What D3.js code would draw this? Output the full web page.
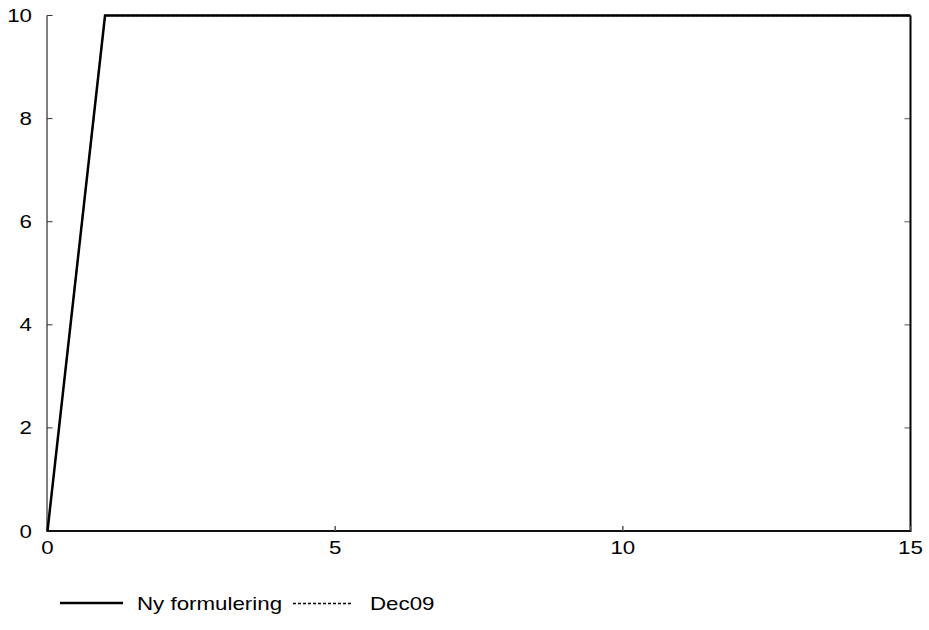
<!DOCTYPE html>
<html><head><meta charset="utf-8">
<script src="https://cdn.jsdelivr.net/npm/d3@7"></script>
<style>
body{margin:0;background:#fff;}
text{font-family:"Liberation Sans",Arial,Helvetica,sans-serif;fill:#000;}
</style></head>
<body><svg id="c" width="929" height="630"></svg>
<script>
const xValues = [0,1,2,3,4,5,6,7,8,9,10,11,12,13,14,15];
const nyFormulering = [0,10,10,10,10,10,10,10,10,10,10,10,10,10,10,10];
const dec09 = [0,10,10,10,10,10,10,10,10,10,10,10,10,10,10,10];
const xTicks = [0,5,10,15];
const yTicks = [0,2,4,6,8,10];
const seriesNames = ["Ny formulering","Dec09"];

const svg = d3.select("#c");
const L=47.5, R=910.5, T=15.5, B=531;
const x = d3.scaleLinear().domain([0,15]).range([L,R]);
const y = d3.scaleLinear().domain([0,10]).range([B,T]);
const SX = 1.24, FS = 18;

svg.append("line").attr("x1",L-0.5).attr("x2",L-0.5).attr("y1",T).attr("y2",B)
  .attr("stroke","#000").attr("stroke-width",1);
yTicks.forEach(v=>{
  svg.append("line").attr("x1",L-0.5).attr("x2",L+5).attr("y1",y(v)).attr("y2",y(v))
    .attr("stroke","#333").attr("stroke-width",1);
  svg.append("line").attr("x1",R-6).attr("x2",R).attr("y1",y(v)).attr("y2",y(v))
    .attr("stroke","#888").attr("stroke-width",1.5);
  svg.append("text").attr("transform",`translate(32,${y(v)+6.5}) scale(${SX},1)`)
    .attr("text-anchor","end").attr("font-size",FS).text(v);
});
svg.append("line").attr("x1",R).attr("x2",R).attr("y1",T).attr("y2",B)
  .attr("stroke","#000").attr("stroke-width",2);
svg.append("line").attr("x1",L-1).attr("x2",R+1).attr("y1",B).attr("y2",B)
  .attr("stroke","#111").attr("stroke-width",2);
xTicks.forEach(v=>{
  svg.append("line").attr("x1",x(v)).attr("x2",x(v)).attr("y1",B).attr("y2",B-5)
    .attr("stroke","#555").attr("stroke-width",1.5);
  svg.append("text").attr("transform",`translate(${x(v)},${B+23}) scale(${SX},1)`)
    .attr("text-anchor","middle").attr("font-size",FS).text(v);
});

const line = d3.line().x((d,i)=>x(xValues[i])).y(d=>y(d));
svg.append("path").datum(dec09).attr("d",line).attr("fill","none")
  .attr("stroke","#000").attr("stroke-width",1.3).attr("stroke-dasharray","3,2");
svg.append("path").datum(nyFormulering).attr("d",line).attr("fill","none")
  .attr("stroke","#000").attr("stroke-width",2.5).attr("stroke-linejoin","miter");

const ly = 603;
svg.append("line").attr("x1",60).attr("x2",123).attr("y1",ly).attr("y2",ly)
  .attr("stroke","#000").attr("stroke-width",2.5);
svg.append("text").attr("transform",`translate(137,${ly+6.5}) scale(${SX},1)`)
  .attr("font-size",FS).text(seriesNames[0]);
svg.append("line").attr("x1",293).attr("x2",353).attr("y1",ly+0.5).attr("y2",ly+0.5)
  .attr("stroke","#000").attr("stroke-width",1.3).attr("stroke-dasharray","3,2");
svg.append("text").attr("transform",`translate(370,${ly+6.5}) scale(${SX},1)`)
  .attr("font-size",FS).text(seriesNames[1]);
</script></body></html>
